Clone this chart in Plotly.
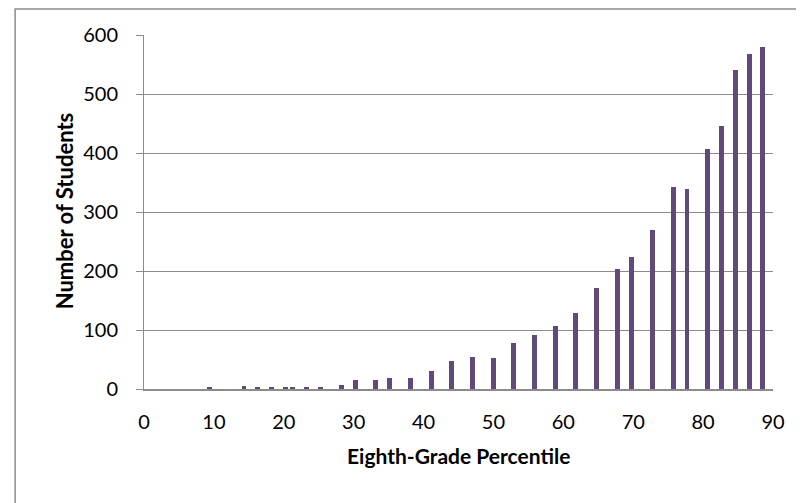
import plotly.graph_objects as go

percentile = [9.4, 14.3, 16.3, 18.3, 20.3, 21.3, 23.3, 25.2, 28.2, 30.2, 33.1, 35.1,
              38.1, 41.1, 44.0, 47.0, 50.0, 52.9, 55.9, 58.9, 61.8, 64.8, 67.8, 69.8,
              72.7, 75.7, 77.7, 80.6, 82.6, 84.6, 86.6, 88.5]
students = [3, 5, 3, 4, 3, 4, 3, 4, 7, 15, 15, 18,
            18, 30, 48, 55, 52, 78, 91, 107, 129, 172, 203, 224,
            270, 343, 339, 406, 445, 540, 567, 580]
x_ticks = [0, 10, 20, 30, 40, 50, 60, 70, 80, 90]
y_ticks = [0, 100, 200, 300, 400, 500, 600]
x_title = "Eighth-Grade Percentile"
y_title = "Number of Students"

FONT = "Lato"
BAR = "#604A7B"
GRID = "#8C8C8C"

# page body has an 8px margin; work in screenshot pixels and shift
OFF = 8
W, H = 804 - OFF, 503 - OFF
PL, PR, PT, PB = 143.5, 773, 35, 389.5  # plot area in screenshot px
L, R, T, B = PL - OFF, W - (PR - OFF), PT - OFF, H - (PB - OFF)
pw = PR - PL
ph = PB - PT


def px_x(p):
    return (p - PL) / pw


def px_y(p):
    return (PB - p) / ph


fig = go.Figure()
fig.add_trace(go.Bar(x=percentile, y=students, width=0.7,
                     marker=dict(color=BAR, line=dict(width=0))))

fig.update_layout(
    width=W, height=H,
    margin=dict(l=L, r=R, t=T, b=B, pad=0, autoexpand=False),
    paper_bgcolor="white", plot_bgcolor="white",
    showlegend=False,
    font=dict(family=FONT, color="#000000", size=20),
    bargap=0,
    xaxis=dict(range=[0, 90], tickvals=x_ticks, ticktext=[str(v) for v in x_ticks],
               showgrid=False, zeroline=False, showline=True, linecolor=GRID,
               linewidth=2, ticks="", tickfont=dict(size=20, family=FONT),
               ticklabelstandoff=14),
    yaxis=dict(range=[0, 600], tickvals=y_ticks, showgrid=True, gridcolor=GRID, gridwidth=1,
               zeroline=False, showline=True, linecolor=GRID, linewidth=1,
               ticks="outside", ticklen=7, tickcolor=GRID, tickwidth=1,
               tickfont=dict(size=20, family=FONT), ticklabelstandoff=14),
    annotations=[
        dict(text="<b>" + x_title + "</b>", xref="paper", yref="paper",
             x=px_x((PL + PR) / 2), y=px_y(456), xanchor="center", yanchor="middle",
             showarrow=False, font=dict(size=21, family=FONT)),
        dict(text="<b>" + y_title + "</b>", xref="paper", yref="paper",
             x=px_x(64), y=px_y(211), xanchor="center", yanchor="middle", textangle=-90,
             showarrow=False, font=dict(size=22, family=FONT)),
    ],
    shapes=[dict(type="rect", xref="paper", yref="paper",
                 x0=px_x(14.5), x1=px_x(830), y0=px_y(530), y1=px_y(OFF + 1),
                 line=dict(color=GRID, width=1.5), fillcolor="rgba(0,0,0,0)", layer="below")],
)

fig.write_html("out.html")
